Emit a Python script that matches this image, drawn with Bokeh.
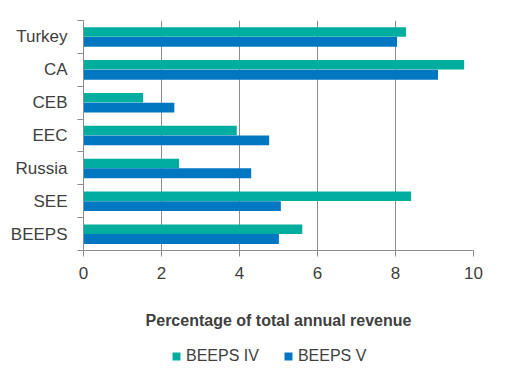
from bokeh.plotting import figure
from bokeh.layouts import column
from bokeh.models import ColumnDataSource, FixedTicker, Legend, LegendItem, Range1d
from bokeh.transform import dodge
from bokeh.embed import file_html
from bokeh.resources import INLINE

# Data (bottom to top)
categories = ["BEEPS", "SEE", "Russia", "EEC", "CEB", "CA", "Turkey"]
beeps_iv = [5.61, 8.40, 2.45, 3.93, 1.53, 9.76, 8.27]
beeps_v = [5.01, 5.06, 4.30, 4.76, 2.33, 9.09, 8.04]
x_ticks = [0, 2, 4, 6, 8, 10]
series_names = ["BEEPS IV", "BEEPS V"]

TEAL = "#00AE9F"
BLUE = "#0077C0"
TXT = "#404040"
GRID = "#8C8C8C"
FONT = "Liberation Sans"

pos = [i + 0.5 for i in range(len(categories))]
src = ColumnDataSource(dict(y=pos, iv=beeps_iv, v=beeps_v))

p = figure(width=492, height=344, output_backend="svg", toolbar_location=None,
           x_range=Range1d(0, 10), y_range=Range1d(0, len(categories)),
           min_border_left=83, min_border_right=19, min_border_top=20, min_border_bottom=94)

r_iv = p.hbar(y=dodge("y", 0.15), right="iv", left=0, height=0.29, source=src,
              fill_color=TEAL, line_color=None)
r_v = p.hbar(y=dodge("y", -0.15), right="v", left=0, height=0.30, source=src,
             fill_color=BLUE, line_color=None)

p.outline_line_color = None
p.background_fill_color = "white"
p.border_fill_color = "white"

# x axis
p.xaxis.ticker = FixedTicker(ticks=x_ticks)
p.xaxis.axis_line_color = GRID
p.xaxis.major_tick_line_color = GRID
p.xaxis.major_tick_out = 6
p.xaxis.major_tick_in = 0
p.xaxis.minor_tick_line_color = None
p.xaxis.major_label_text_font = FONT
p.xaxis.major_label_text_font_size = "17px"
p.xaxis.major_label_text_color = TXT
p.xaxis.major_label_standoff = 10
p.xaxis.axis_label = "Percentage of total annual revenue"
p.xaxis.axis_label_text_font = FONT
p.xaxis.axis_label_text_font_style = "bold"
p.xaxis.axis_label_text_font_size = "16px"
p.xaxis.axis_label_text_color = TXT
p.xaxis.axis_label_standoff = 30

# y axis
p.yaxis.ticker = FixedTicker(ticks=pos, minor_ticks=list(range(len(categories) + 1)))
p.yaxis.major_label_overrides = {pp: c for pp, c in zip(pos, categories)}
p.yaxis.axis_line_color = GRID
p.yaxis.major_tick_line_color = None
p.yaxis.minor_tick_line_color = GRID
p.yaxis.minor_tick_out = 6
p.yaxis.minor_tick_in = 0
p.yaxis.major_label_text_font = FONT
p.yaxis.major_label_text_font_size = "17px"
p.yaxis.major_label_text_color = TXT
p.yaxis.major_label_standoff = 10

p.xgrid.grid_line_color = GRID
p.xgrid.ticker = FixedTicker(ticks=x_ticks)
p.ygrid.grid_line_color = None

# legend strip below the chart (its bars lie outside its visible range)
lg = figure(width=492, height=30, output_backend="svg", toolbar_location=None,
            x_range=Range1d(0, 10), y_range=Range1d(100, 101),
            min_border_left=0, min_border_right=0, min_border_top=0, min_border_bottom=0)
lg.axis.visible = False
lg.grid.grid_line_color = None
lg.outline_line_color = None
l_iv = lg.hbar(y="y", right="iv", left=0, height=0.3, source=src,
               fill_color=TEAL, line_color=None)
l_v = lg.hbar(y="y", right="v", left=0, height=0.3, source=src,
              fill_color=BLUE, line_color=None)

legend = Legend(items=[LegendItem(label=series_names[0], renderers=[l_iv]),
                       LegendItem(label=series_names[1], renderers=[l_v])],
                orientation="horizontal", location=(88, 9),
                label_text_font=FONT, label_text_font_size="16px", label_text_color=TXT,
                label_standoff=5, glyph_width=10, glyph_height=10, spacing=24,
                padding=0, margin=0,
                border_line_color=None, background_fill_alpha=0)
lg.add_layout(legend, "center")

layout = column(p, lg, spacing=0)
open("out.html", "w").write(file_html(layout, INLINE))
